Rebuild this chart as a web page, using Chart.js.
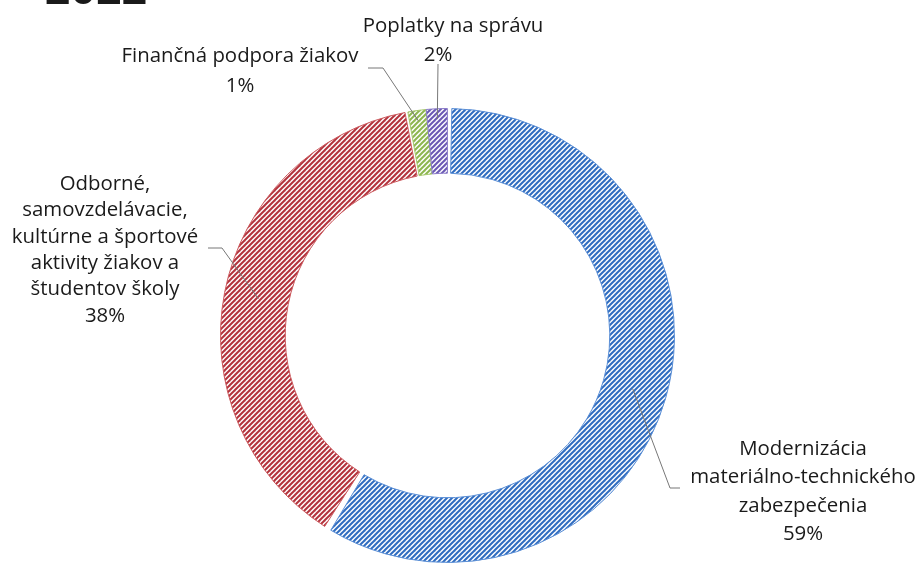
<!DOCTYPE html>
<html>
<head>
<meta charset="utf-8">
<script src="https://cdn.jsdelivr.net/npm/chart.js@4.4.1/dist/chart.umd.min.js"></script>
<style>
html,body{margin:0;padding:0;background:#fff;}
#wrap{width:920px;height:566px;}
</style>
</head>
<body>
<div id="wrap"><canvas id="main" width="920" height="566"></canvas></div>
<script>
// categories as they are broken into lines on the picture
const categories = [
    ['Modernizácia', 'materiálno-technického', 'zabezpečenia'],
    ['Odborné,', 'samovzdelávacie,', 'kultúrne a športové', 'aktivity žiakov a', 'študentov školy'],
    ['Finančná podpora žiakov'],
    ['Poplatky na správu']
];
const shares = [58.9, 38.3, 1.3, 1.5];
const stripeColors = ['#2f6cc0', '#b3323c', '#8db64f', '#6a58b4'];
const edgeColors = ['#5b8fd6', '#cc5a5e', '#a6c86e', '#8a7bc8'];
const headingText = '2022';

const FONT = '20.4px "Open Sans", sans-serif';

// where each label sits and where its leader line starts
const labelPos = [
    {x: 803, y: 455, lh: 28.3, line: [[680, 488], [670, 488]], depth: 0.5},
    {x: 105, y: 190, lh: 26.3, line: [[208, 248], [222, 248]], depth: 0.5},
    {x: 240, y: 62, lh: 30, line: [[368, 68], [383, 68]], depth: 0.87},
    {x: 453, y: 32, lh: 28.5, pctX: 438, line: [[438, 64]], depth: 0.87}
];

const hatch = (color) => {
    const t = 5;
    const c = document.createElement('canvas');
    c.width = t; c.height = t;
    const g = c.getContext('2d');
    g.fillStyle = '#fff';
    g.fillRect(0, 0, t, t);
    g.strokeStyle = color;
    g.lineWidth = 2;
    for (let k = -1; k <= 1; k++){
        g.beginPath();
        g.moveTo(k * t - 1, t + 1);
        g.lineTo(k * t + t + 1, -1);
        g.stroke();
    }
    return g.createPattern(c, 'repeat');
}

const labelsPlugin = {
    id: 'labels',
    afterDraw(chart){
        const ctx = chart.ctx;
        const arcs = chart.getDatasetMeta(0).data;
        ctx.save();
        // heading cut off at the top
        ctx.fillStyle = '#1a1a1a';
        ctx.font = 'bold 46px "Liberation Sans", sans-serif';
        ctx.textAlign = 'left';
        ctx.textBaseline = 'alphabetic';
        ctx.fillText(headingText, 45, 4);

        ctx.strokeStyle = '#777';
        ctx.lineWidth = 1;
        for (let i = 0; i < arcs.length; i++){
            const a = arcs[i];
            const p = labelPos[i];
            const mid = (a.startAngle + a.endAngle) / 2;
            const r = a.innerRadius + (a.outerRadius - a.innerRadius) * p.depth;
            ctx.beginPath();
            ctx.moveTo(p.line[0][0], p.line[0][1]);
            for (let k = 1; k < p.line.length; k++) ctx.lineTo(p.line[k][0], p.line[k][1]);
            ctx.lineTo(a.x + Math.cos(mid) * r, a.y + Math.sin(mid) * r);
            ctx.stroke();
        }

        ctx.fillStyle = '#1a1a1a';
        ctx.font = FONT;
        ctx.textAlign = 'center';
        for (let i = 0; i < categories.length; i++){
            const p = labelPos[i];
            const lines = categories[i];
            for (let k = 0; k < lines.length; k++){
                ctx.fillText(lines[k], p.x, p.y + k * p.lh);
            }
            ctx.fillText(Math.round(shares[i]) + '%', p.pctX || p.x, p.y + lines.length * p.lh);
        }
        ctx.restore();
    }
};

new Chart(document.getElementById('main'), {
    type: 'doughnut',
    data: {
        labels: categories,
        datasets: [{
            data: shares,
            backgroundColor: stripeColors.map(hatch),
            borderColor: edgeColors,
            borderWidth: 1,
            spacing: 4
        }]
    },
    options: {
        responsive: false,
        animation: false,
        events: [],
        radius: 225,
        cutout: 161,
        layout: {padding: {left: 219, right: 244, top: 107, bottom: 2}},
        plugins: {
            legend: {display: false},
            tooltip: {enabled: false}
        }
    },
    plugins: [labelsPlugin]
});
</script>
</body>
</html>
